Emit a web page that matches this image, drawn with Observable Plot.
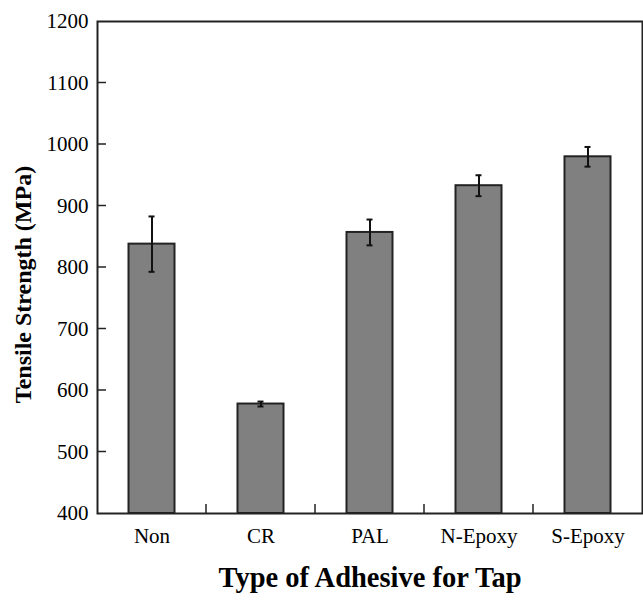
<!DOCTYPE html>
<html>
<head>
<meta charset="utf-8">
<script src="https://cdn.jsdelivr.net/npm/d3@7"></script>
<script src="https://cdn.jsdelivr.net/npm/@observablehq/plot@0.6"></script>
<style>
  html, body { margin: 0; padding: 0; background: #fff; }
</style>
</head>
<body>
<div id="chart"></div>
<script>
const categories = ["Non", "CR", "PAL", "N-Epoxy", "S-Epoxy"];
const strength = [838, 578, 857, 933, 980];
const errorBar = [45, 4, 21, 17, 16];
const yTicks = [400, 500, 600, 700, 800, 900, 1000, 1100, 1200];
const xTitle = "Type of Adhesive for Tap";
const yTitle = "Tensile Strength (MPa)";

const data = categories.map((c, i) => ({type: c, value: strength[i], err: errorBar[i]}));

function innerTicks(index, scales, values, dims) {
  const g = d3.create("svg:g").attr("stroke", "#222").attr("stroke-width", 1.5);
  const x0 = dims.marginLeft;
  const yb = dims.height - dims.marginBottom;
  yTicks.slice(1, -1).forEach(t => {
    const y = scales.y(t);
    g.append("line").attr("x1", x0).attr("x2", x0 + 9).attr("y1", y).attr("y2", y);
  });
  const bw = typeof scales.x.bandwidth === "function" ? scales.x.bandwidth() : scales.x.bandwidth;
  categories.slice(0, -1).forEach(c => {
    const x = scales.x(c) + bw;
    g.append("line").attr("x1", x).attr("x2", x).attr("y1", yb).attr("y2", yb - 9);
  });
  return g.node();
}

const chart = Plot.plot({
  width: 643,
  height: 602,
  marginLeft: 97,
  marginRight: 1,
  marginTop: 21,
  marginBottom: 89,
  style: {fontFamily: "'Liberation Serif', 'DejaVu Serif', serif", fontSize: "21px", color: "#000", background: "#fff"},
  x: {domain: categories, padding: 0, label: null},
  y: {domain: [400, 1200], label: null},
  marks: [
    Plot.barY(data, {x: "type", y1: 400, y2: "value", fill: "#808080", stroke: "#222", strokeWidth: 2, insetLeft: 31.5, insetRight: 31.5}),
    Plot.ruleX(data, {x: "type", y1: d => d.value - d.err, y2: d => d.value + d.err, stroke: "#111", strokeWidth: 2}),
    Plot.tickY(data, {x: "type", y: d => d.value - d.err, stroke: "#111", strokeWidth: 2, insetLeft: 51.5, insetRight: 51.5}),
    Plot.tickY(data, {x: "type", y: d => d.value + d.err, stroke: "#111", strokeWidth: 2, insetLeft: 51.5, insetRight: 51.5}),
    Plot.frame({stroke: "#222", strokeWidth: 2}),
    innerTicks,
    Plot.axisY({ticks: yTicks, tickFormat: "d", tickSize: 0, tickPadding: 9, fontSize: 21, label: null}),
    Plot.axisX({tickSize: 0, tickPadding: 15, fontSize: 21, label: null}),
    Plot.text([yTitle], {frameAnchor: "left", textAnchor: "middle", rotate: -90, dx: -74, dy: 17, fontWeight: "bold", fontSize: 24, fill: "#000"}),
    Plot.text([xTitle], {frameAnchor: "bottom", dy: 73, fontWeight: "bold", fontSize: 28.5, fill: "#000"})
  ]
});
document.getElementById("chart").appendChild(chart);
</script>
</body>
</html>
